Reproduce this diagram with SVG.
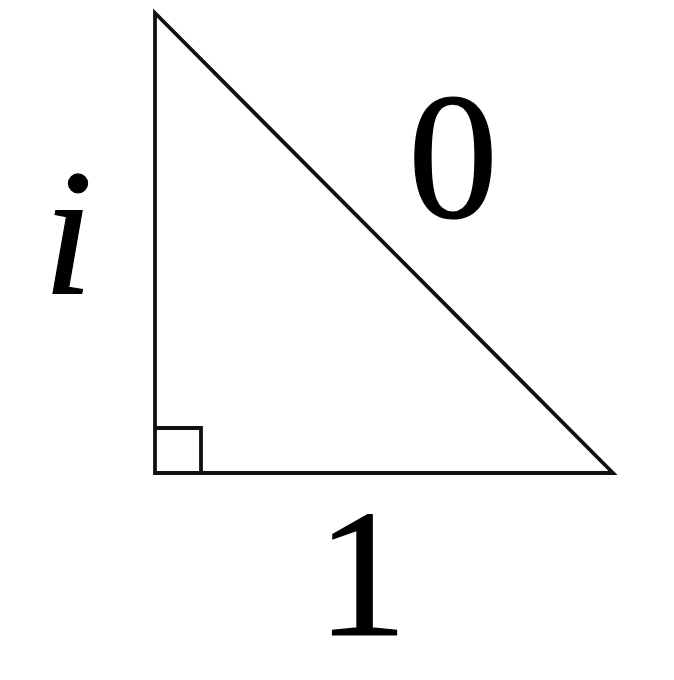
<svg xmlns="http://www.w3.org/2000/svg" width="674" height="680" viewBox="0 0 674 680">
<style>
.ln{fill:none;stroke:#111;stroke-width:3.8;stroke-linejoin:miter;stroke-miterlimit:20}
</style>
<rect width="674" height="680" fill="#fff"/>
<g id="triangle">
<polygon class="ln" points="155,13 155,473 613,473"/>
</g>
<g id="right-angle">
<polyline class="ln" points="155,428 201,428 201,473"/>
</g>
<g id="label-i"><text x="68" y="293" font-family="Times New Roman" font-size="180" text-anchor="middle" fill="#000" stroke="#000" stroke-width="1.2"><tspan font-style="italic">i</tspan></text></g>
<g id="label-0"><text x="453" y="217" font-family="Times New Roman" font-size="180" text-anchor="middle" fill="#000" stroke="#000" stroke-width="1.2">0</text></g>
<g id="label-1"><text x="362" y="635" font-family="Times New Roman" font-size="182" text-anchor="middle" fill="#000" stroke="#000" stroke-width="1.2">1</text></g>
</svg>
